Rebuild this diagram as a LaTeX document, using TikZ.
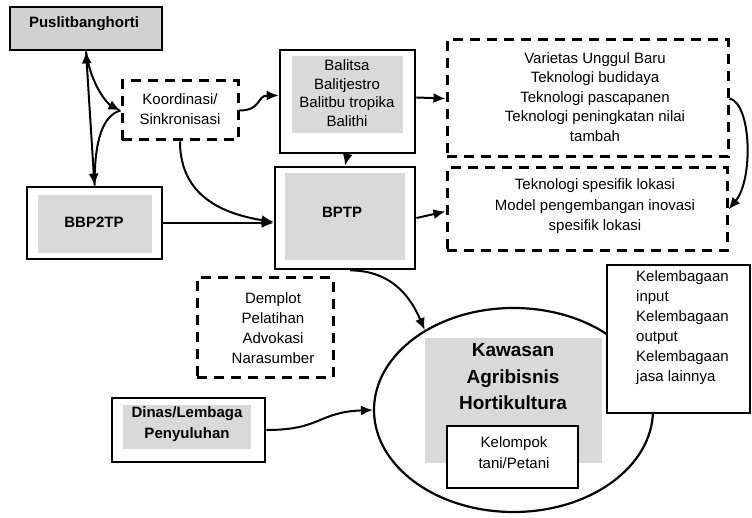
\documentclass[tikz,border=0pt]{standalone}
\usepackage{fontspec}
\setmainfont{Liberation Sans}
\usetikzlibrary{arrows.meta,shapes.geometric}

\begin{document}
\begin{tikzpicture}[x=1pt,y=-1pt,
		>={Latex[length=12pt,width=10pt]},
		frame/.style={draw,line width=2.8pt,inner sep=0pt},
		dashframe/.style={draw,line width=3pt,dash pattern=on 10pt off 7pt,inner sep=0pt},
		txt/.style={align=center,font=\fontsize{15}{19.5}\selectfont,inner sep=0pt},
		btxt/.style={align=center,font=\fontsize{15}{21}\selectfont\bfseries,inner sep=0pt},
		link/.style={->,line width=2pt}]
	\useasboundingbox (0,0) rectangle (752,518);
	% grey insets
	\fill [black!15] (292,56) rectangle (403,133);
	\fill [black!15] (38,195) rectangle (152,253);
	\fill [black!15] (285,173) rectangle (405,260);
	\fill [black!15] (123,405) rectangle (251,449);
	% boxes
	\node [frame,fill=black!18,minimum width=152,minimum height=43] (pusl) at (86,28.5) {};
	\node [btxt] (pusl-t) at (84,24) {Puslitbanghorti};
	\node [dashframe,minimum width=116,minimum height=59] (koor) at (180,110.5) {};
	\node [txt] (koor-t) at (180,109) {Koordinasi/\\Sinkronisasi};
	\node [frame,minimum width=135,minimum height=103] (balitsa) at (347.5,101.5) {};
	\node [txt,font=\fontsize{15}{18.5}\selectfont] (balitsa-t) at (347,93) {Balitsa\\Balitjestro\\Balitbu tropika\\Balithi};
	\node [dashframe,minimum width=281,minimum height=117] (dash1) at (587.5,98.5) {};
	\node [txt] (dash1-t) at (595,97) {Varietas Unggul Baru\\Teknologi budidaya\\Teknologi pascapanen\\Teknologi peningkatan nilai\\tambah};
	\node [dashframe,minimum width=280,minimum height=83] (dash2) at (587,209.5) {};
	\node [txt,font=\fontsize{15}{20.5}\selectfont] (dash2-t) at (595,206.5) {Teknologi spesifik lokasi\\Model pengembangan inovasi\\spesifik lokasi};
	\node [frame,minimum width=135,minimum height=72] (bbp) at (94.5,223) {};
	\node [btxt] (bbp-t) at (94,222) {BBP2TP};
	\node [frame,minimum width=140,minimum height=102] (bptp) at (345,218) {};
	\node [btxt] (bptp-t) at (342,212) {BPTP};
	\node [dashframe,minimum width=136,minimum height=99] (demplot) at (265,327.5) {};
	\node [txt,font=\fontsize{15}{20}\selectfont] (demplot-t) at (273,328) {Demplot\\Pelatihan\\Advokasi\\Narasumber};
	\node [frame,minimum width=153,minimum height=64] (dinas) at (188.5,430) {};
	\node [btxt] (dinas-t) at (187,424.5) {Dinas/Lembaga\\Penyuluhan};
	% kawasan
	\node [draw,ellipse,line width=2.2pt,minimum width=279,minimum height=204,inner sep=0pt] (kaw) at (513.5,410) {};
	\fill [black!15] (425,338) rectangle (602,463);
	\node [align=center,font=\fontsize{19}{26.5}\selectfont\bfseries,inner sep=0pt] (kaw-t) at (513,377) {Kawasan\\Agribisnis\\Hortikultura};
	\node [frame,line width=2.4pt,fill=white,minimum width=131,minimum height=62] (tani) at (512.5,457) {};
	\node [txt,font=\fontsize{15}{21}\selectfont] (tani-t) at (514,452.5) {Kelompok\\tani/Petani};
	\node [frame,line width=2.4pt,fill=white,minimum width=143,minimum height=148] (kel) at (678.5,339) {};
	\node [txt,align=left,font=\fontsize{15}{20}\selectfont,anchor=west] (kel-t) at (636,328) {Kelembagaan\\input\\Kelembagaan\\output\\Kelembagaan\\jasa lainnya};
	% connectors
	\draw [<->,line width=2pt] (pusl.south) -- (bbp.north);
	\draw [link] (pusl.south) .. controls +(5,35) and +(-12,-6) .. (koor.west);
	\draw [line width=2pt] (koor.west) .. controls +(-18,5) and +(0,-45) .. (bbp.north);
	\draw [link] (koor.east) .. controls +(22,0) and +(-22,0) .. ([yshift=6pt]balitsa.west);
	\draw [link] (koor.south) .. controls +(0,55) and +(-50,-8) .. ([yshift=-4pt]bptp.west);
	\draw [link] (bbp.east) -- (bbp.east -| bptp.west);
	\draw [link] (balitsa.south) -- (bptp.north);
	\draw [link] ([yshift=4pt]balitsa.east) -- (dash1.west);
	\draw [link] (bptp.east) -- ([yshift=-2pt]dash2.west);
	\draw [link] (dash1.east) .. controls +(22,5) and +(25,-30) .. (dash2.east);
	\draw [link] ([xshift=5pt]bptp.south) .. controls +(45,0) and +(-12,-28) .. (kaw.138);
	\draw [link] (dinas.east) .. controls +(55,0) and +(-55,2) .. (kaw.west);
\end{tikzpicture}
\end{document}
